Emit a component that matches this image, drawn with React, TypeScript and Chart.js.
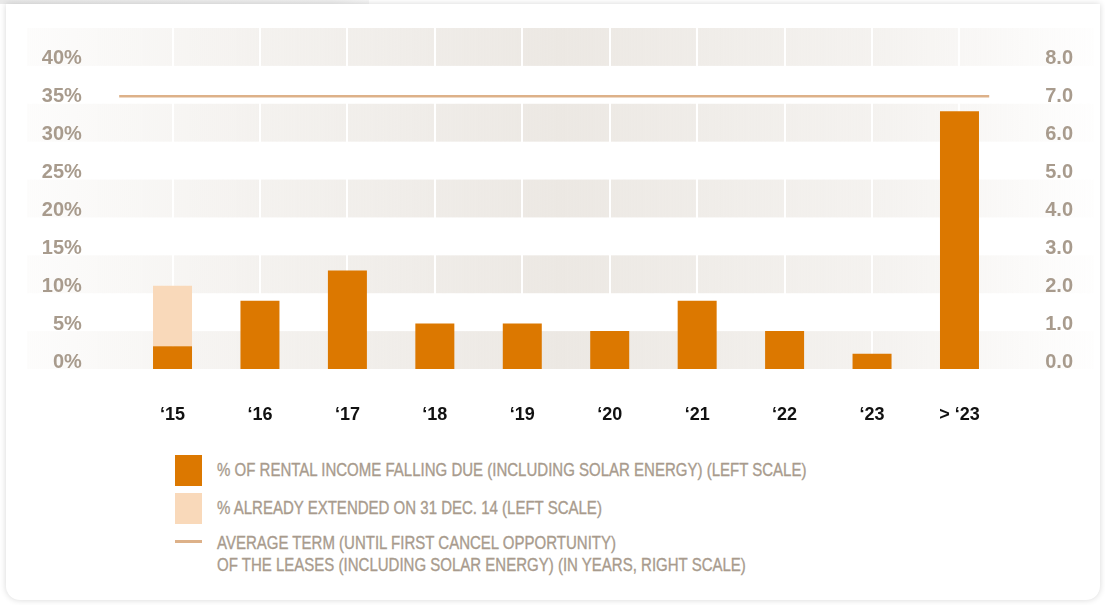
import React, { useEffect, useRef } from "react";
import { Chart, registerables } from "chart.js";

Chart.register(...registerables);

// ---- data ----
const categories = ["‘15", "‘16", "‘17", "‘18", "‘19", "‘20", "‘21", "‘22", "‘23", "> ‘23"];
const rentalIncomeDue = [3, 9, 13, 6, 6, 5, 9, 5, 2, 34];
const alreadyExtended = [8, null, null, null, null, null, null, null, null, null];
const averageTermX = [-0.61, 9.34];
const averageTermYears = [7.2, 7.2];
const leftTickValues = [0, 5, 10, 15, 20, 25, 30, 35, 40];
const rightTickValues = [0, 1, 2, 3, 4, 5, 6, 7, 8];
const shadedBands = [
  [0, 5],
  [10, 15],
  [20, 25],
  [30, 35],
  [40, 45],
];
const seriesLabels = [
  "% OF RENTAL INCOME FALLING DUE (INCLUDING SOLAR ENERGY) (LEFT SCALE)",
  "% ALREADY EXTENDED ON 31 DEC. 14 (LEFT SCALE)",
];
const lineLabelLines = [
  "AVERAGE TERM (UNTIL FIRST CANCEL OPPORTUNITY)",
  "OF THE LEASES (INCLUDING SOLAR ENERGY) (IN YEARS, RIGHT SCALE)",
];

// ---- style ----
const ORANGE = "#dc7800";
const LIGHT = "#f9d9ba";
const LINE = "#ddb189";
const LABEL = "#a89b8d";
const BAND = "236,232,227";
const CANVAS_W = 1105;
const CANVAS_H = 440;

const bandPlugin = {
  id: "bands",
  beforeDraw(chart: any) {
    const { ctx } = chart;
    const y = chart.scales.y;
    const x0 = 27;
    const x1 = 1094;
    const g = ctx.createLinearGradient(x0, 0, x1, 0);
    g.addColorStop(0, `rgba(${BAND},0.12)`);
    g.addColorStop(0.2, `rgba(${BAND},0.55)`);
    g.addColorStop(0.5, `rgba(${BAND},1)`);
    g.addColorStop(0.8, `rgba(${BAND},0.55)`);
    g.addColorStop(1, `rgba(${BAND},0.05)`);
    ctx.save();
    ctx.fillStyle = g;
    for (const [a, b] of shadedBands) {
      const top = y.getPixelForValue(b);
      const bottom = y.getPixelForValue(a);
      ctx.fillRect(x0, top, x1 - x0, bottom - top);
    }
    ctx.restore();
  },
};

const tickFont = { family: "'Liberation Sans', Arial, sans-serif", size: 20, weight: "bold" as const };

function ChartCanvas() {
  const ref = useRef<HTMLCanvasElement | null>(null);
  useEffect(() => {
    if (!ref.current) return;
    const chart = new Chart(ref.current, {
      type: "bar",
      data: {
        labels: categories,
        datasets: [
          {
            type: "bar",
            label: seriesLabels[0],
            data: rentalIncomeDue,
            backgroundColor: ORANGE,
            xAxisID: "x",
            yAxisID: "y",
            grouped: false,
            barPercentage: 0.446,
            categoryPercentage: 1,
          },
          {
            type: "bar",
            label: seriesLabels[1],
            data: alreadyExtended,
            backgroundColor: LIGHT,
            xAxisID: "x",
            yAxisID: "y",
            grouped: false,
            barPercentage: 0.446,
            categoryPercentage: 1,
          },
          {
            type: "line",
            label: lineLabelLines.join(" "),
            data: averageTermX.map((x, i) => ({ x, y: averageTermYears[i] })) as any,
            borderColor: LINE,
            borderWidth: 2.5,
            pointRadius: 0,
            clip: false,
            xAxisID: "x2",
            yAxisID: "y1",
          } as any,
        ],
      },
      options: {
        animation: false,
        responsive: false,
        maintainAspectRatio: false,
        layout: { padding: { top: 28, left: 0, right: 0, bottom: 0 } },
        plugins: { legend: { display: false }, tooltip: { enabled: false } },
        scales: {
          x: {
            type: "category",
            stacked: true,
            offset: true,
            grid: { color: "#ffffff", lineWidth: 2, offset: false, drawTicks: false },
            border: { display: false },
            ticks: {
              color: "#111111",
              font: { family: "'Liberation Sans', Arial, sans-serif", size: 18, weight: "bold" },
              padding: 35,
              maxRotation: 0,
            },
            afterFit(scale: any) {
              scale.height = 71;
            },
          },
          x2: {
            type: "linear",
            display: false,
            offset: false,
            min: -0.5,
            max: 9.5,
          },
          y: {
            position: "left",
            stacked: true,
            min: 0,
            max: 45,
            grid: { display: false, drawTicks: true, tickLength: 47 },
            border: { display: false },
            afterBuildTicks(scale: any) {
              scale.ticks = leftTickValues.map((v) => ({ value: v }));
            },
            ticks: {
              color: LABEL,
              font: tickFont,
              padding: 0,
              labelOffset: -7,
              callback: (v: any) => `${v}%`,
            },
            afterFit(scale: any) {
              scale.width = 128.8;
            },
          },
          y1: {
            position: "right",
            min: 0,
            max: 9,
            grid: { display: false, drawTicks: true, tickLength: 42 },
            border: { display: false },
            afterBuildTicks(scale: any) {
              scale.ticks = rightTickValues.map((v) => ({ value: v }));
            },
            ticks: {
              color: LABEL,
              font: tickFont,
              padding: 0,
              labelOffset: -7,
              callback: (v: any) => Number(v).toFixed(1),
            },
            afterFit(scale: any) {
              scale.width = CANVAS_W - 1003.2;
            },
          },
        },
      },
      plugins: [bandPlugin],
    });
    return () => chart.destroy();
  }, []);
  return (
    <canvas
      ref={ref}
      width={CANVAS_W}
      height={CANVAS_H}
      style={{ position: "absolute", left: 0, top: 0, width: CANVAS_W, height: CANVAS_H }}
    />
  );
}

const legendText: React.CSSProperties = {
  position: "absolute",
  left: 217,
  fontFamily: "'Liberation Sans', Arial, sans-serif",
  fontSize: 18,
  color: LABEL,
  whiteSpace: "nowrap",
  lineHeight: "22px",
  transform: "scaleX(0.834)",
  transformOrigin: "0 0",
  WebkitTextStroke: "0.35px " + LABEL,
};

export default function App() {
  return (
    <div
      style={{
        position: "absolute",
        left: 0,
        top: 0,
        width: 1105,
        height: 605,
        background: "#ffffff",
        overflow: "hidden",
      }}
    >
      <div
        style={{
          position: "absolute",
          left: 0,
          top: 0,
          width: 369,
          height: 4,
          background: "linear-gradient(to right, #e9e9e9, #eeeeee 90%, #f6f6f6)",
        }}
      />
      <div
        style={{
          position: "absolute",
          left: 6,
          top: 4,
          width: 1094,
          height: 596,
          background: "#ffffff",
          borderRadius: "0 0 14px 14px",
          boxShadow: "0 0 6px rgba(0,0,0,0.16)",
        }}
      />
      <ChartCanvas />
      {/* legend */}
      <div style={{ position: "absolute", left: 175, top: 455, width: 27, height: 31, background: ORANGE }} />
      <div style={{ ...legendText, top: 459 }}>{seriesLabels[0]}</div>
      <div style={{ position: "absolute", left: 175, top: 493, width: 27, height: 31, background: LIGHT }} />
      <div style={{ ...legendText, top: 497 }}>{seriesLabels[1]}</div>
      <div style={{ position: "absolute", left: 175, top: 540, width: 27, height: 3, background: LINE }} />
      <div style={{ ...legendText, top: 532 }}>
        {lineLabelLines.map((l, i) => (
          <div key={i}>{l}</div>
        ))}
      </div>
    </div>
  );
}
